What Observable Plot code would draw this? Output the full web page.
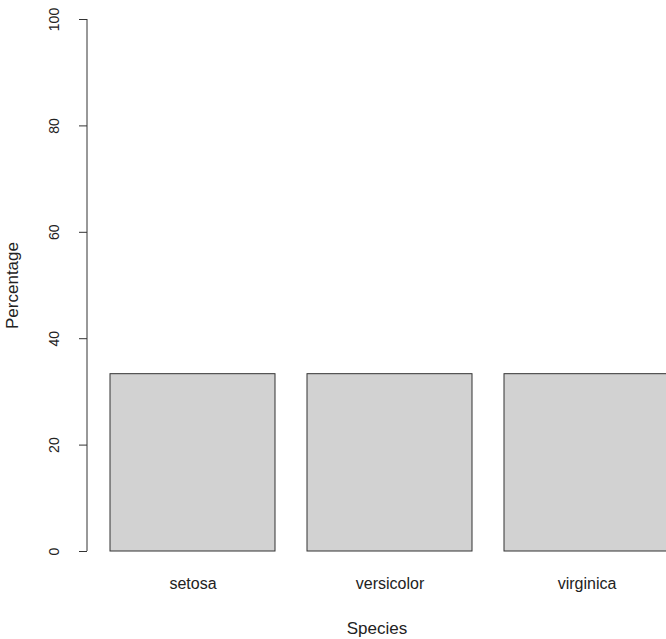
<!DOCTYPE html>
<html>
<head>
<meta charset="utf-8">
<script src="https://cdn.jsdelivr.net/npm/d3@7"></script>
<script src="https://cdn.jsdelivr.net/npm/@observablehq/plot@0.6"></script>
<style>
  html, body { margin: 0; padding: 0; background: #fff; overflow: hidden; }
  #chart svg { display: block; }
</style>
</head>
<body>
<div id="chart"></div>
<script>
const species = ["setosa", "versicolor", "virginica"];
const percentage = [33.33, 33.33, 33.33];
const yTicks = [0, 20, 40, 60, 80, 100];

const data = species.map((s, i) => ({species: s, pct: percentage[i]}));

const axisLine = (index, scales, values, dimensions) => {
  const g = d3.create("svg:g");
  const x = dimensions.marginLeft;
  g.append("line")
    .attr("x1", x).attr("x2", x)
    .attr("y1", scales.y(yTicks[0])).attr("y2", scales.y(yTicks[yTicks.length - 1]))
    .attr("stroke", "#333").attr("stroke-width", 1);
  return g.node();
};

const chart = Plot.plot({
  width: 666,
  height: 639,
  marginLeft: 87,
  marginRight: 0,
  marginTop: 19,
  marginBottom: 88,
  style: {fontFamily: "'Liberation Sans', Arial, sans-serif", fontSize: "14px", color: "#222", background: "#fff"},
  x: {domain: species, range: [109, 671], paddingInner: 0.1616, paddingOuter: 0},
  y: {domain: [0, 100]},
  marks: [
    Plot.barY(data, {x: "species", y: "pct", fill: "#d2d2d2", stroke: "#333", strokeWidth: 1}),
    axisLine,
    Plot.axisY({ticks: yTicks, tickSize: 8, tickRotate: -90, tickPadding: 21, stroke: "#333", fontSize: 14, label: null}),
    Plot.axisY({ticks: [], tickSize: 0, label: "Percentage", labelAnchor: "center", labelArrow: "none", labelOffset: 82, fontSize: 17}),
    Plot.axisX({tickSize: 0, tickPadding: 26, fontSize: 16, label: null}),
    Plot.axisX({ticks: [], tickSize: 0, label: "Species", labelAnchor: "center", labelArrow: "none", labelOffset: 82, fontSize: 17})
  ]
});
document.getElementById("chart").appendChild(chart);
</script>
</body>
</html>
